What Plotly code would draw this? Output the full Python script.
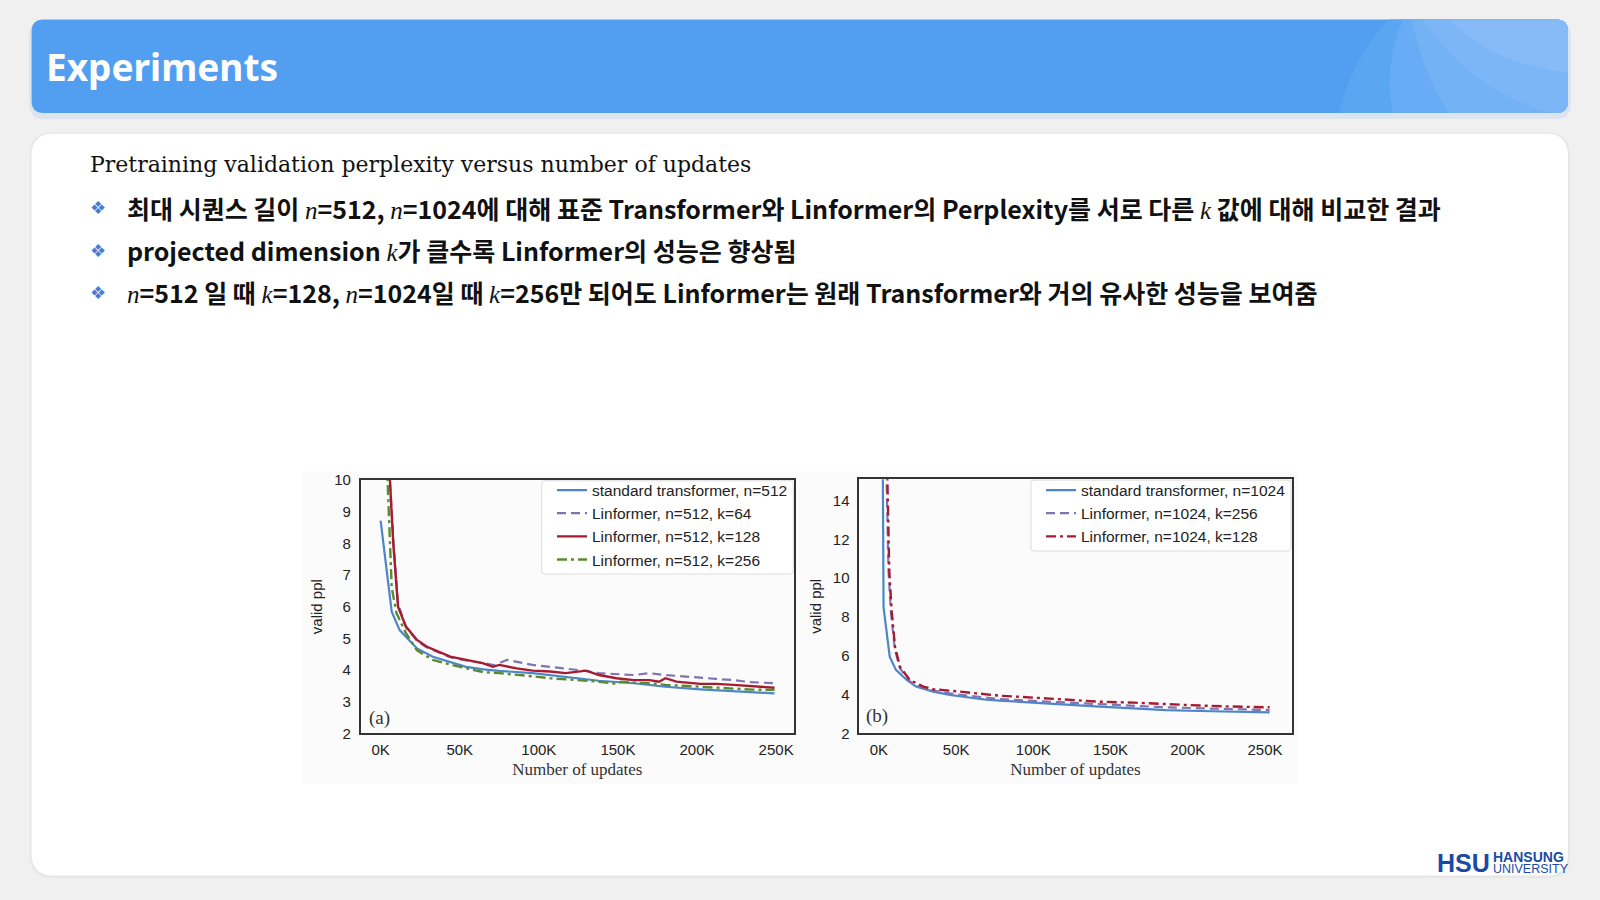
import plotly.graph_objects as go

# chart (a): n=512, x in thousands of updates
A_STD_X = [0, 7, 12, 23, 33, 44, 54, 65, 75, 96, 117, 138, 160, 180, 202, 223, 249]
A_STD_Y = [8.72, 5.84, 5.26, 4.68, 4.42, 4.26, 4.10, 4.02, 3.97, 3.90, 3.79, 3.66, 3.58, 3.47, 3.39, 3.33, 3.26]

A_K64_X = [5, 8, 11, 16, 23, 29, 44, 54, 65, 72, 80, 86, 96, 107, 117, 128, 138, 149, 160, 170, 180, 191, 202, 212, 223, 233, 249]
A_K64_Y = [10.8, 8.1, 6.1, 5.35, 4.92, 4.72, 4.40, 4.30, 4.22, 4.15, 4.32, 4.26, 4.16, 4.10, 4.05, 3.98, 3.90, 3.86, 3.84, 3.90, 3.84, 3.80, 3.77, 3.72, 3.68, 3.62, 3.58]

A_K128_X = [5, 8, 11, 16, 23, 29, 44, 54, 65, 71, 75, 86, 96, 107, 117, 130, 138, 149, 160, 170, 176, 180, 187, 202, 212, 223, 233, 249]
A_K128_Y = [10.8, 8.0, 6.0, 5.37, 4.95, 4.74, 4.42, 4.32, 4.21, 4.10, 4.16, 4.05, 3.98, 3.95, 3.90, 3.98, 3.84, 3.74, 3.68, 3.68, 3.63, 3.74, 3.63, 3.56, 3.56, 3.53, 3.50, 3.44]

A_K256_X = [4, 7, 10, 16, 23, 33, 44, 54, 65, 75, 86, 96, 107, 117, 128, 138, 149, 152, 160, 170, 180, 191, 202, 212, 223, 235, 249]
A_K256_Y = [10.5, 6.6, 5.8, 5.16, 4.62, 4.32, 4.17, 4.06, 3.93, 3.90, 3.86, 3.80, 3.74, 3.70, 3.68, 3.63, 3.56, 3.63, 3.60, 3.58, 3.53, 3.50, 3.47, 3.42, 3.39, 3.38, 3.37]

# chart (b): n=1024
B_STD_X = [2.5, 3, 7, 11, 18, 24, 35, 46, 57, 68, 78, 100, 122, 143, 165, 186, 208, 229, 253]
B_STD_Y = [16.0, 8.5, 5.95, 5.27, 4.75, 4.41, 4.15, 3.98, 3.86, 3.75, 3.69, 3.58, 3.46, 3.38, 3.29, 3.20, 3.15, 3.12, 3.08]

B_K256_X = [4.5, 6.2, 7.8, 10.4, 13.6, 20, 28.7, 35, 46, 57, 68, 78, 100, 122, 143, 165, 186, 208, 229, 253]
B_K256_Y = [17.0, 10.4, 8.2, 6.3, 5.35, 4.67, 4.32, 4.20, 4.06, 3.94, 3.86, 3.77, 3.67, 3.58, 3.50, 3.41, 3.34, 3.29, 3.24, 3.20]

B_K128_X = [5, 6.7, 8.2, 10.4, 13.6, 20, 28.7, 35, 46, 57, 68, 78, 100, 122, 143, 165, 186, 208, 229, 253]
B_K128_Y = [17.0, 10.4, 8.36, 6.47, 5.44, 4.75, 4.41, 4.27, 4.20, 4.10, 4.01, 3.94, 3.84, 3.75, 3.63, 3.58, 3.50, 3.43, 3.38, 3.34]

X_TICKS = [0, 50, 100, 150, 200, 250]
X_TICKTEXT = ["0K", "50K", "100K", "150K", "200K", "250K"]
A_Y_TICKS = [2, 3, 4, 5, 6, 7, 8, 9, 10]
B_Y_TICKS = [2, 4, 6, 8, 10, 12, 14]

W, H = 1600, 900


def px(x):
    return x / W


def py(y):
    return 1 - y / H


def path(pts):
    s = ""
    for cmd, coords in pts:
        s += cmd + " " + " ".join(f"{px(a):.5f},{py(b):.5f}" for a, b in coords) + " "
    return s + "Z"


def rounded(x0, y0, x1, y1, r):
    # rounded rectangle, given in pixels
    return path([
        ("M", [(x0 + r, y0)]), ("L", [(x1 - r, y0)]), ("Q", [(x1, y0), (x1, y0 + r)]),
        ("L", [(x1, y1 - r)]), ("Q", [(x1, y1), (x1 - r, y1)]), ("L", [(x0 + r, y1)]),
        ("Q", [(x0, y1), (x0, y1 - r)]), ("L", [(x0, y0 + r)]), ("Q", [(x0, y0), (x0 + r, y0)]),
    ])


def it(s):
    return f'<span style="font-family:Liberation Serif;font-weight:normal"><i>{s}</i></span>'


BLUE = "#4c86c8"
PURPLE = "#8172b2"
RED = "#a51c30"
GREEN = "#5b8a2e"
DASH = "9px,5px"
DASHDOT = "10px,4px,3px,4px"

fig = go.Figure()

legend_font = dict(family="Liberation Sans", size=15.5, color="#222222")

fig.add_trace(go.Scatter(x=A_STD_X, y=A_STD_Y, mode="lines", name="standard transformer, n=512",
                         line=dict(color=BLUE, width=2.2), xaxis="x", yaxis="y", legend="legend"))
fig.add_trace(go.Scatter(x=A_K64_X, y=A_K64_Y, mode="lines", name="Linformer, n=512, k=64",
                         line=dict(color=PURPLE, width=2.2, dash=DASH), xaxis="x", yaxis="y", legend="legend"))
fig.add_trace(go.Scatter(x=A_K128_X, y=A_K128_Y, mode="lines", name="Linformer, n=512, k=128",
                         line=dict(color=RED, width=2.4), xaxis="x", yaxis="y", legend="legend"))
fig.add_trace(go.Scatter(x=A_K256_X, y=A_K256_Y, mode="lines", name="Linformer, n=512, k=256",
                         line=dict(color=GREEN, width=2.4, dash=DASHDOT), xaxis="x", yaxis="y", legend="legend"))

fig.add_trace(go.Scatter(x=B_STD_X, y=B_STD_Y, mode="lines", name="standard transformer, n=1024",
                         line=dict(color=BLUE, width=2.2), xaxis="x2", yaxis="y2", legend="legend2"))
fig.add_trace(go.Scatter(x=B_K256_X, y=B_K256_Y, mode="lines", name="Linformer, n=1024, k=256",
                         line=dict(color=PURPLE, width=2.2, dash=DASH), xaxis="x2", yaxis="y2", legend="legend2"))
fig.add_trace(go.Scatter(x=B_K128_X, y=B_K128_Y, mode="lines", name="Linformer, n=1024, k=128",
                         line=dict(color=RED, width=2.4, dash=DASHDOT), xaxis="x2", yaxis="y2", legend="legend2"))

axis_common = dict(showline=True, mirror=True, linecolor="#333333", linewidth=1.5, showgrid=False,
                   zeroline=False, ticks="", automargin=False,
                   tickfont=dict(family="Liberation Sans", size=15, color="#222222"))
xtitle = dict(text="Number of updates", font=dict(family="Liberation Serif", size=17, color="#333333"), standoff=6)
ytitle = dict(text="valid ppl", font=dict(family="Liberation Sans", size=15, color="#222222"), standoff=8)

legend_common = dict(xanchor="left", yanchor="top", bgcolor="rgba(0,0,0,0)", borderwidth=0,
                     font=legend_font, tracegroupgap=0, itemwidth=30)

fig.update_layout(
    width=W, height=H,
    margin=dict(l=0, r=0, t=0, b=0),
    paper_bgcolor="#f0f0f0", plot_bgcolor="white",
    xaxis=dict(domain=[px(360.7), px(794)], range=[-12.6, 261.3], tickvals=X_TICKS, ticktext=X_TICKTEXT,
               anchor="y", title=xtitle, ticklabelstandoff=2, **axis_common),
    yaxis=dict(domain=[py(733.3), py(480)], range=[2, 10], tickvals=A_Y_TICKS, anchor="x",
               title=ytitle, ticklabelstandoff=5, **axis_common),
    xaxis2=dict(domain=[px(859.3), px(1291.7)], range=[-12.7, 267.3], tickvals=X_TICKS, ticktext=X_TICKTEXT,
                anchor="y2", title=xtitle, ticklabelstandoff=2, **axis_common),
    yaxis2=dict(domain=[py(733.3), py(479.3)], range=[2, 15.1], tickvals=B_Y_TICKS, anchor="x2",
                title=ytitle, ticklabelstandoff=5, **axis_common),
    legend=dict(x=px(552), y=py(473.5), **legend_common),
    legend2=dict(x=px(1041), y=py(473.5), **legend_common),
    showlegend=True,
)

shapes = []
# banner shadow + banner
shapes.append(dict(path=rounded(29, 21, 1571, 119, 15), fillcolor="rgba(83,150,230,0.12)"))
shapes.append(dict(path=rounded(31.6, 19.5, 1568, 113, 12), fillcolor="#529ff2"))
# banner decoration (lighter arcs on the right)
right_edge = [("L", [(1556, 19.5)]), ("Q", [(1568, 19.5), (1568, 31.5)]), ("L", [(1568, 101)]),
              ("Q", [(1568, 113), (1556, 113)])]
shapes.append(dict(fillcolor="#5ba6f3",
                   path=path([("M", [(1339, 113)]), ("C", [(1350, 70), (1368, 40), (1390, 19.5)])] + right_edge)))
shapes.append(dict(fillcolor="#67acf5",
                   path=path([("M", [(1393, 113)]), ("C", [(1386, 85), (1391, 45), (1403, 19.5)])] + right_edge)))
shapes.append(dict(fillcolor="#74b2f6",
                   path=path([("M", [(1412, 19.5)])] + right_edge + [("L", [(1450, 113)]),
                             ("C", [(1435, 95), (1420, 60), (1412, 19.5)])])))
shapes.append(dict(fillcolor="#7db6f6",
                   path=path([("M", [(1423, 19.5)]), ("C", [(1450, 60), (1490, 95), (1550, 113)]),
                              ("L", [(1556, 113)]), ("Q", [(1568, 113), (1568, 101)]), ("L", [(1568, 31.5)]),
                              ("Q", [(1568, 19.5), (1556, 19.5)])])))
shapes.append(dict(fillcolor="#86bbf7",
                   path=path([("M", [(1450, 19.5)]), ("C", [(1480, 50), (1520, 68), (1568, 72)]),
                              ("L", [(1568, 31.5)]), ("Q", [(1568, 19.5), (1556, 19.5)])])))
# content panel shadow + panel
shapes.append(dict(path=rounded(29.5, 132.5, 1570, 878, 23), fillcolor="rgba(0,0,0,0.035)"))
shapes.append(dict(path=rounded(31.6, 133.7, 1568, 875.5, 22), fillcolor="white"))
for s in shapes:
    s.update(type="path", xref="paper", yref="paper", layer="below", line=dict(width=0))
# pasted chart image background
shapes.append(dict(type="rect", xref="paper", yref="paper", x0=px(302), x1=px(1298), y0=py(784), y1=py(471),
                   fillcolor="#fbfbfb", line=dict(width=0), layer="below"))
# legend boxes (matplotlib style frame)
shapes.append(dict(type="path", xref="paper", yref="paper", layer="above", fillcolor="white",
                   line=dict(color="#dcdcdc", width=1), path=rounded(541.7, 480.8, 793.3, 574, 3)))
shapes.append(dict(type="path", xref="paper", yref="paper", layer="above", fillcolor="white",
                   line=dict(color="#dcdcdc", width=1), path=rounded(1031, 480.1, 1291, 551, 3)))
fig.update_layout(shapes=shapes)

ann = []
ann.append(dict(text="<b>Experiments</b>", x=px(44), y=py(67), xanchor="left", yanchor="middle",
                font=dict(family="Noto Sans", size=37, color="white")))
ann.append(dict(text="Pretraining validation perplexity versus number of updates", x=px(88), y=py(164),
                xanchor="left", yanchor="middle", font=dict(family="DejaVu Serif", size=22, color="#111111")))

bullets = [
    f"최대 시퀀스 길이 {it('n')}=512, {it('n')}=1024에 대해 표준 Transformer와 Linformer의 Perplexity를 서로 다른 {it('k')} 값에 대해 비교한 결과",
    f"projected dimension {it('k')}가 클수록 Linformer의 성능은 향상됨",
    f"{it('n')}=512 일 때 {it('k')}=128, {it('n')}=1024일 때 {it('k')}=256만 되어도 Linformer는 원래 Transformer와 거의 유사한 성능을 보여줌",
]
for i, b in enumerate(bullets):
    yy = 208 + i * 42
    ann.append(dict(text="❖", x=px(98), y=py(yy), xanchor="center", yanchor="middle",
                    font=dict(family="DejaVu Sans", size=18, color="#4a7bd1")))
    ann.append(dict(text=b, x=px(125), y=py(yy), xanchor="left", yanchor="middle",
                    font=dict(family="Noto Sans CJK KR", size=25, color="#111111", weight="bold")))

ann.append(dict(text="(a)", x=px(367), y=py(718), xanchor="left", yanchor="middle",
                font=dict(family="Liberation Serif", size=19, color="#333333")))
ann.append(dict(text="(b)", x=px(864), y=py(716), xanchor="left", yanchor="middle",
                font=dict(family="Liberation Serif", size=19, color="#333333")))

# logo
ann.append(dict(text="<b>HSU</b>", x=px(1463), y=py(863), xanchor="center", yanchor="middle",
                font=dict(family="Liberation Sans", size=25, color="#1a4aa6")))
ann.append(dict(text="<b>HANSUNG</b>", x=px(1491), y=py(857), xanchor="left", yanchor="middle",
                font=dict(family="Liberation Sans", size=14, color="#1a4aa6")))
ann.append(dict(text="UNIVERSITY", x=px(1491), y=py(868.5), xanchor="left", yanchor="middle",
                font=dict(family="Liberation Sans", size=12.5, color="#1a4aa6")))

for a in ann:
    a.update(xref="paper", yref="paper", showarrow=False)
fig.update_layout(annotations=ann)

fig.write_html("out.html", config={"displayModeBar": False},
               post_script="document.body.style.margin='0';")
